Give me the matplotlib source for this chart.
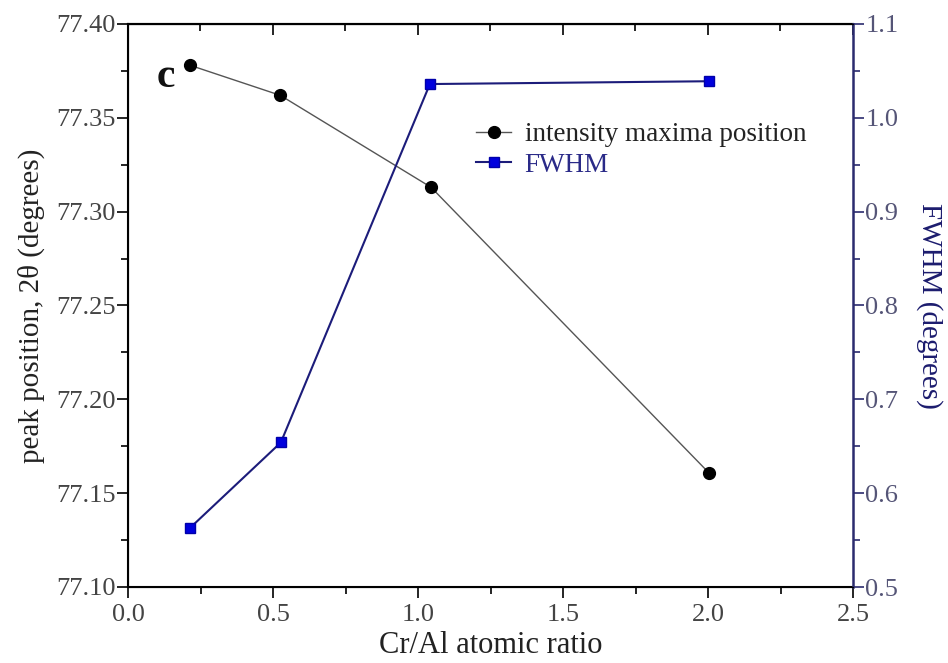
import matplotlib
matplotlib.use('Agg')
import matplotlib.pyplot as plt
from matplotlib.ticker import MultipleLocator

# data
cr_al = [0.214, 0.525, 1.045, 2.002]
peak_pos = [77.378, 77.362, 77.313, 77.161]
fwhm_x = [0.214, 0.527, 1.041, 2.003]
fwhm = [0.563, 0.654, 1.036, 1.039]

plt.rcParams['font.family'] = ['Liberation Serif', 'DejaVu Serif']

navy = '#2b2b6e'
fig = plt.figure(figsize=(9.48, 6.63), dpi=100)
ax = fig.add_axes([128 / 948, 1 - 587 / 663, (853 - 128) / 948, (587 - 24) / 663])
ax2 = ax.twinx()

l1, = ax.plot(cr_al, peak_pos, color='#555555', lw=1.0, marker='o', ms=8.5,
              mfc='black', mec='black', label='intensity maxima position')
l2, = ax2.plot(fwhm_x, fwhm, color='#1c1c7a', lw=1.5, marker='s', ms=7.5,
               mfc='#0000dd', mec='#0000aa', label='FWHM')

ax.set_xlim(0, 2.5)
ax.set_ylim(77.10, 77.40)
ax2.set_ylim(0.5, 1.1)

ax.xaxis.set_major_locator(MultipleLocator(0.5))
ax.xaxis.set_minor_locator(MultipleLocator(0.25))
ax.yaxis.set_major_locator(MultipleLocator(0.05))
ax.yaxis.set_minor_locator(MultipleLocator(0.025))
ax2.yaxis.set_major_locator(MultipleLocator(0.1))
ax2.yaxis.set_minor_locator(MultipleLocator(0.05))
ax.xaxis.set_major_formatter(plt.FuncFormatter(lambda v, p: f'{v:.1f}'))
ax.yaxis.set_major_formatter(plt.FuncFormatter(lambda v, p: f'{v:.2f}'))
ax2.yaxis.set_major_formatter(plt.FuncFormatter(lambda v, p: f'{v:.1f}'))

ax.tick_params(axis='x', which='both', direction='out', top=False,
               labelsize=19, labelcolor='#444444', pad=4)
ax.tick_params(axis='x', which='major', length=8, width=1.2)
ax.tick_params(axis='x', which='minor', length=5, width=1.2)
ax.tick_params(axis='y', which='major', direction='out', length=8, width=1.2,
               labelsize=19, labelcolor='#444444', pad=1)
ax.tick_params(axis='y', which='minor', direction='out', length=5, width=1.2)
ax2.tick_params(axis='y', which='major', direction='out', length=8, width=1.2,
                color=navy, labelsize=19, labelcolor='#555577', pad=1)
ax2.tick_params(axis='y', which='minor', direction='out', length=5, width=1.2, color=navy)

# top axis ticks pointing inward
sec = ax.secondary_xaxis('top')
sec.xaxis.set_major_locator(MultipleLocator(0.5))
sec.xaxis.set_minor_locator(MultipleLocator(0.25))
sec.tick_params(which='major', direction='in', length=8, width=1.2, labeltop=False)
sec.tick_params(which='minor', direction='in', length=5, width=1.2)
sec.spines['top'].set_linewidth(1.5)

for s in ['left', 'bottom', 'top']:
    ax.spines[s].set_linewidth(1.5)
ax2.spines['right'].set_color(navy)
ax2.spines['right'].set_linewidth(1.8)
ax.spines['right'].set_visible(False)

ax.set_xlabel('Cr/Al atomic ratio', fontsize=22, color='#222222', labelpad=4)
ax.set_ylabel('peak position, 2\u03b8 (degrees)', fontsize=21, color='#222222', labelpad=8)
ax2.set_ylabel('FWHM (degrees)', fontsize=21, color='#1c1c6e', rotation=270, labelpad=32)

ax.text(0.1, 77.372, 'c', fontsize=30, fontweight='bold', color='#111111',
        ha='left', va='center')

leg = ax.legend(handles=[l1, l2], loc='upper left', bbox_to_anchor=(0.465, 0.845),
                frameon=False, fontsize=19.5, handlelength=1.3, handletextpad=0.5,
                labelspacing=0.2, borderaxespad=0)
leg.get_texts()[0].set_color('#222222')
leg.get_texts()[1].set_color('#2a2a88')

fig.savefig('out.png', dpi=100)
